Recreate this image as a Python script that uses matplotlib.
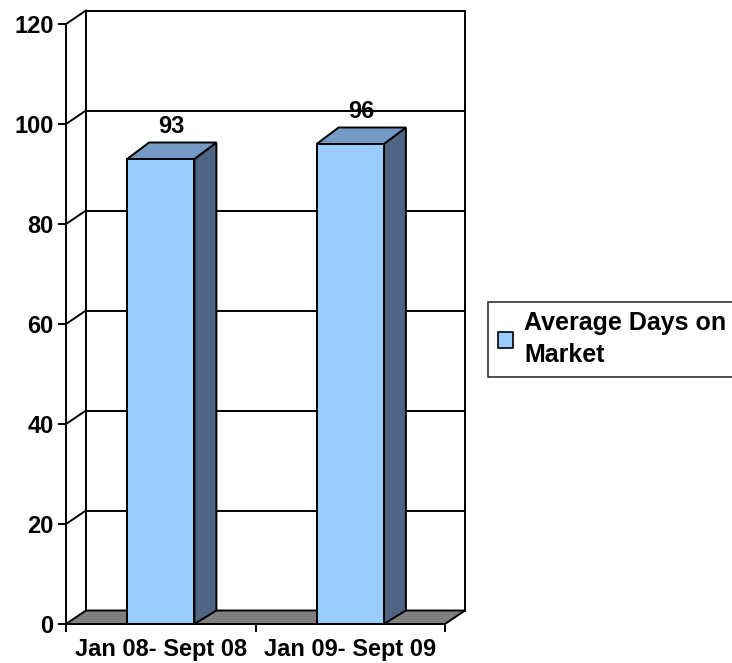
import numpy as np
import matplotlib
matplotlib.use("Agg")
import matplotlib.pyplot as plt
from matplotlib.patches import Polygon, Patch

plt.rcParams['font.family'] = ['Liberation Sans', 'DejaVu Sans']
plt.rcParams['font.weight'] = 'bold'
plt.rcParams['font.size'] = 17

# datos
categorias = ['Jan 08- Sept 08', 'Jan 09- Sept 09']
valores = [93, 96]
serie = 'Average Days on\nMarket'
y_ticks = [0, 20, 40, 60, 80, 100, 120]

# colores
c_frente = '#99CCFF'
c_arriba = '#7399C4'
c_lado = '#4F6584'
c_piso = '#808080'

fig = plt.figure(figsize=(7.32, 6.63), dpi=100)
ax = fig.add_axes([66/732, 39/663, 379/732, 600/663])
ax.set_xlim(-0.5, 1.5)
ax.set_ylim(0, 120)

# escala pixel -> datos
px_x = 2 / 379
px_y = 120 / 600

# profundidad de pared y barras
dxw, dyw = 20 * px_x, 13.5 * px_y
dxb, dyb = 22 * px_x, 16.5 * px_y
ancho = 0.355
lw = 1.4

# pared del fondo: lineas de cuadricula y diagonales del lado izquierdo
for v in y_ticks[1:]:
    ax.plot([-0.5 + dxw, 1.5 + dxw], [v + dyw, v + dyw], color='k', lw=lw,
            clip_on=False, zorder=1)
    ax.plot([-0.5, -0.5 + dxw], [v, v + dyw], color='k', lw=lw,
            clip_on=False, zorder=1)
for xb in [-0.5 + dxw, 1.5 + dxw]:
    ax.plot([xb, xb], [dyw, 120 + dyw], color='k', lw=lw, clip_on=False, zorder=1)

# piso
piso = Polygon([(-0.5, 0), (1.5, 0), (1.5 + dxw, dyw), (-0.5 + dxw, dyw)],
               closed=True, facecolor=c_piso, edgecolor='k', lw=lw,
               clip_on=False, zorder=2)
ax.add_patch(piso)

# barras 3D
x = np.arange(len(categorias))
for xi, v in zip(x, valores):
    x0, x1 = xi - ancho / 2, xi + ancho / 2
    lado = Polygon([(x1, 0), (x1 + dxb, dyw), (x1 + dxb, v + dyb), (x1, v)],
                   closed=True, facecolor=c_lado, edgecolor='k', lw=lw,
                   clip_on=False, zorder=3)
    arriba = Polygon([(x0, v), (x1, v), (x1 + dxb, v + dyb), (x0 + dxb, v + dyb)],
                     closed=True, facecolor=c_arriba, edgecolor='k', lw=lw,
                     clip_on=False, zorder=3)
    frente = Polygon([(x0, 0), (x1, 0), (x1, v), (x0, v)],
                     closed=True, facecolor=c_frente, edgecolor='k', lw=lw,
                     clip_on=False, zorder=4)
    for p in (lado, arriba, frente):
        ax.add_patch(p)
    ax.text(xi + dxb / 2, v + dyb + 0.9, f'{v}', ha='center', va='bottom',
            fontweight='bold', zorder=5)

# ejes
for s in ['top', 'right']:
    ax.spines[s].set_visible(False)
ax.spines['left'].set_linewidth(lw)
ax.spines['bottom'].set_linewidth(lw)
ax.spines['left'].set_zorder(6)
ax.spines['bottom'].set_zorder(6)
ax.set_yticks(y_ticks)
ax.set_yticklabels([str(t) for t in y_ticks])
ax.tick_params(axis='y', length=6, width=lw, pad=3)
ax.set_xticks([-0.5, 0.5, 1.5])
ax.set_xticklabels(['', '', ''])
ax.tick_params(axis='x', which='major', length=6, width=lw)
ax.set_xticks(x, minor=True)
ax.set_xticklabels(categorias, minor=True)
ax.tick_params(axis='x', which='minor', length=0, pad=10)
ax.patch.set_alpha(0)

# leyenda
h = Patch(facecolor=c_frente, edgecolor='k', lw=1.2)
leg = fig.legend([h], [serie], loc='upper left',
                 bbox_to_anchor=(488/732, 1 - 302/663), borderaxespad=0,
                 frameon=True, fancybox=False, edgecolor='k',
                 handlelength=0.62, handleheight=0.62, handletextpad=0.45,
                 borderpad=0.38, prop={'weight': 'bold', 'size': 18})
leg.get_frame().set_linewidth(1.2)
leg.get_texts()[0].set_linespacing(1.4)
leg._legend_box.align = 'left'

fig.savefig('out.png', dpi=100)
